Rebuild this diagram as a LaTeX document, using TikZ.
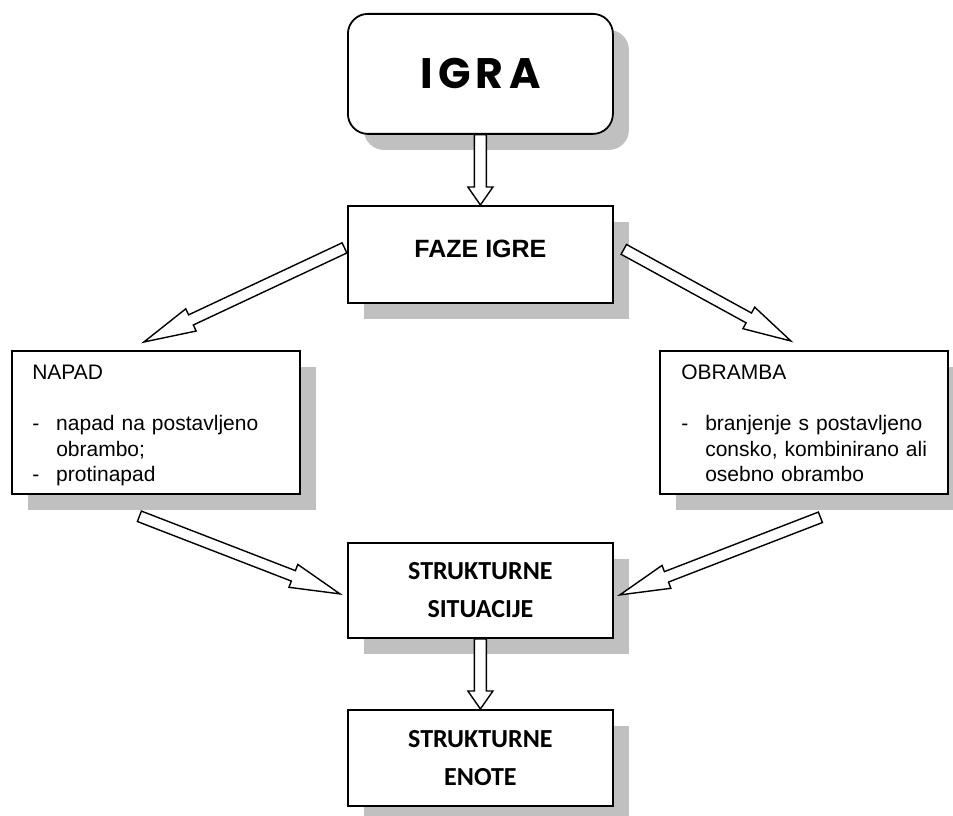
\documentclass[tikz,border=0pt]{standalone}
\usepackage{fontspec}
\setmainfont{Liberation Sans}
\newfontfamily\calfont{Carlito}
\newfontfamily\igrafont{Poppins}
\usetikzlibrary{calc,shadows}
\definecolor{shadowgray}{HTML}{C0C0C0}
\tikzset{
  box/.style={draw=black, line width=1.35pt, fill=white, rectangle, inner sep=0pt, anchor=north west,
    drop shadow={shadow xshift=12pt, shadow yshift=-12pt, fill=shadowgray, opacity=1}},
  widebox/.style={box, minimum width=198.75pt},
  sidebox/.style={box, minimum width=216pt, minimum height=107.25pt},
  blockarrow/.style={draw=black, line width=1.05pt, fill=white, line join=miter},
  bodytext/.style={inner sep=0pt, anchor=base west, align=left, text width=215pt,
    font=\fontsize{15.75pt}{19.1pt}\selectfont},
  headtext/.style={font=\bfseries\fontsize{18.75pt}{22pt}\selectfont},
  caltext/.style={font=\calfont\bfseries\fontsize{19.5pt}{28.5pt}\selectfont, align=center},
}
\newcommand\blockarr[5]{%
  \coordinate (ba-s) at (#1);
  \coordinate (ba-e) at (#2);
  \coordinate (ba-h) at ($(ba-e)!#5!(ba-s)$);
  \draw[blockarrow] ($(ba-s)!#3!90:(ba-e)$) -- ($(ba-h)!#3!-90:(ba-s)$) -- ($(ba-h)!#4!-90:(ba-s)$)
    -- (ba-e) -- ($(ba-h)!#4!90:(ba-s)$) -- ($(ba-h)!#3!90:(ba-s)$) -- ($(ba-s)!#3!-90:(ba-e)$) -- cycle;
}
\begin{document}
\begin{tikzpicture}[x=0.75pt,y=-0.75pt]
\useasboundingbox[fill=white] (0,0) rectangle (953,816);

% boxes
\node[widebox, rounded corners=15pt, minimum height=90pt] (igra) at (347,13)
  {\igrafont\bfseries\fontsize{32pt}{36pt}\selectfont I\kern4pt G\kern4pt R\kern4pt A};
\node[widebox, minimum height=72.75pt, headtext, text depth=8.25pt] (faze) at (347,205) {FAZE IGRE};
\node[sidebox] (napad) at (11,350) {};
\node[sidebox] (obramba) at (659,350) {};
\node[widebox, minimum height=71.25pt, caltext] (situacije) at (347,542) {STRUKTURNE\\SITUACIJE};
\node[widebox, minimum height=72pt, caltext] (enote) at (347,709) {STRUKTURNE\\ENOTE};

% side box texts
\node[bodytext] (napad-t) at (32,380)
  {NAPAD\\[19.1pt]\makebox[18pt][l]{-}napad na postavljeno\\\hspace*{18pt}obrambo;\\\makebox[18pt][l]{-}protinapad};
\node[bodytext] (obramba-t) at (681,380)
  {OBRAMBA\\[19.1pt]\makebox[18pt][l]{-}branjenje s postavljeno\\\hspace*{18pt}consko, kombinirano ali\\\hspace*{18pt}osebno obrambo};

% arrow end points
\coordinate (a2s) at ($(faze.west)+(-2.5,-6.5)$);
\coordinate (a2e) at ($(napad.north)+(-12,-8)$);
\coordinate (a3s) at ($(faze.east)+(10,-5)$);
\coordinate (a3e) at ($(obramba.north)+(-13,-9)$);
\coordinate (a4s) at ($(napad.south)+(-16.5,21.5)$);
\coordinate (a4e) at ($(situacije.west)+(-7,3.5)$);
\coordinate (a5s) at ($(obramba.south)+(16.5,22.5)$);
\coordinate (a5e) at ($(situacije.east)+(6,4.5)$);

% block arrows
\blockarr{igra.south}{faze.north}{4.5pt}{9.4pt}{13.5pt}
\blockarr{a2s}{a2e}{4.2pt}{9.2pt}{39pt}
\blockarr{a3s}{a3e}{4.2pt}{9.2pt}{36pt}
\blockarr{a4s}{a4e}{4.2pt}{9.2pt}{37.5pt}
\blockarr{a5s}{a5e}{4.2pt}{9.2pt}{37.5pt}
\blockarr{situacije.south}{enote.north}{4.5pt}{9.4pt}{13.5pt}
\end{tikzpicture}
\end{document}
